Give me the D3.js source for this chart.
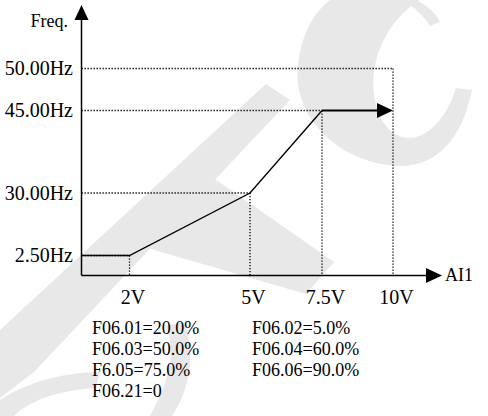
<!DOCTYPE html>
<html>
<head>
<meta charset="utf-8">
<script src="https://cdn.jsdelivr.net/npm/d3@7"></script>
<style>
  body { margin: 0; background: #fff; }
  svg text { font-family: "Liberation Serif", "Times New Roman", serif; fill: #000; }
  .guide { fill: none; stroke: #000; stroke-width: 1.3; stroke-dasharray: 1.3,1.7; }
  .mark { fill: #e8e8e8; stroke: none; }
</style>
</head>
<body>
<div id="chart"></div>
<script>
// data
var voltTicks = [2, 5, 7.5, 10];
var voltLabels = ["2V", "5V", "7.5V", "10V"];
var freqTicks = [2.5, 30, 45, 50];
var freqLabels = ["2.50Hz", "30.00Hz", "45.00Hz", "50.00Hz"];
var curveVolt = [0, 2, 5, 7.5, 10];
var curveFreq = [2.5, 2.5, 30, 45, 45];
var guideVolt = [2, 5, 7.5, 10];
var guideFreq = [2.5, 30, 45, 50];
var paramsLeft = ["F06.01=20.0%", "F06.03=50.0%", "F6.05=75.0%", "F06.21=0"];
var paramsRight = ["F06.02=5.0%", "F06.04=60.0%", "F06.06=90.0%"];

var width = 488, height = 416;

var svg = d3.select("#chart")
  .append("svg")
    .attr("width", width)
    .attr("height", height);

// background watermark (faint)
var wm = [
  "M330,0 L420,0 C372,30 362,92 386,126 C405,150 440,138 456,88 L472,90 C462,140 436,166 400,166 C340,164 292,118 298,66 C301,36 312,14 330,0 Z",
  "M404,0 L416,0 C428,6 436,14 440,22 L430,26 C424,16 414,8 404,0 Z",
  "M0,330 L266,84 L290,100 L34,372 L0,398 Z",
  "M120,240 L205,172 L334,262 L306,294 Z",
  "M0,400 C30,380 70,372 100,372 L96,388 C60,390 30,400 14,416 L0,416 Z",
  "M150,416 C170,380 176,350 166,326 L184,322 C196,352 190,390 172,416 Z"
];
svg.append("g").selectAll("path")
  .data(wm)
  .enter().append("path")
    .attr("class", "mark")
    .attr("d", function(d) { return d; });

// scales (the figure is schematic, so piecewise)
var x = d3.scaleLinear().domain([0, 2, 5, 7.5, 10]).range([81.5, 129.5, 250, 322, 393]);
var y = d3.scaleLinear().domain([0, 2.5, 30, 45, 50]).range([275.5, 255.5, 193, 110.5, 68.5]);

// dotted guides
guideVolt.forEach(function(v, i) {
  var f = guideFreq[i];
  svg.append("line").attr("class", "guide")
    .attr("x1", x(0)).attr("x2", x(v))
    .attr("y1", y(f)).attr("y2", y(f));
  svg.append("line").attr("class", "guide")
    .attr("x1", x(v)).attr("x2", x(v))
    .attr("y1", y(f)).attr("y2", y(0));
});

// axes lines with arrows
svg.append("line")
  .attr("x1", x(0)).attr("y1", y(0))
  .attr("x2", x(0)).attr("y2", 19)
  .attr("stroke", "#000").attr("stroke-width", 1.5);
svg.append("path")
  .attr("d", "M" + x(0) + ",5 L" + (x(0) - 7) + ",20 L" + (x(0) + 7) + ",20 Z")
  .attr("fill", "#000");

svg.append("line")
  .attr("x1", x(0)).attr("y1", y(0))
  .attr("x2", 427).attr("y2", y(0))
  .attr("stroke", "#000").attr("stroke-width", 1.5);
svg.append("path")
  .attr("d", "M442," + y(0) + " L426," + (y(0) - 7.5) + " L426," + (y(0) + 7.5) + " Z")
  .attr("fill", "#000");

// tick labels via d3 axes
var yAxis = svg.append("g")
  .attr("transform", "translate(" + x(0) + ",0)")
  .call(d3.axisLeft(y).tickValues(freqTicks).tickSize(0).tickPadding(8.5)
    .tickFormat(function(d, i) { return freqLabels[i]; }));
yAxis.select(".domain").remove();
yAxis.selectAll("text")
  .attr("font-size", 20)
  .style("font-family", "'Liberation Serif', serif")
  .attr("fill", "#000");

var xAxis = svg.append("g")
  .attr("transform", "translate(0," + y(0) + ")")
  .call(d3.axisBottom(x).tickValues(voltTicks).tickSize(0).tickPadding(14)
    .tickFormat(function(d, i) { return voltLabels[i]; }));
xAxis.select(".domain").remove();
xAxis.selectAll("text")
  .attr("font-size", 20)
  .attr("dx", 3)
  .style("font-family", "'Liberation Serif', serif")
  .attr("fill", "#000");

svg.append("text")
  .attr("x", 68).attr("y", 27)
  .attr("text-anchor", "end")
  .attr("font-size", 18)
  .text("Freq.");

svg.append("text")
  .attr("x", 445).attr("y", 281)
  .attr("font-size", 18)
  .text("AI1");

// the setting curve
var line = d3.line()
  .x(function(d) { return x(d[0]); })
  .y(function(d) { return y(d[1]); });

var pts = curveVolt.map(function(v, i) { return [v, curveFreq[i]]; });

svg.append("path")
  .datum(pts.slice(0, 4))
  .attr("d", line)
  .attr("fill", "none")
  .attr("stroke", "#000")
  .attr("stroke-width", 1.4);

var last = pts.slice(3);
svg.append("line")
  .attr("x1", x(last[0][0])).attr("y1", y(last[0][1]))
  .attr("x2", x(last[1][0]) - 14).attr("y2", y(last[1][1]))
  .attr("stroke", "#000").attr("stroke-width", 2.2);
svg.append("path")
  .attr("d", "M" + x(last[1][0]) + "," + y(last[1][1]) +
    " L" + (x(last[1][0]) - 16) + "," + (y(last[1][1]) - 7.5) +
    " L" + (x(last[1][0]) - 16) + "," + (y(last[1][1]) + 7.5) + " Z")
  .attr("fill", "#000");

// parameter notes
svg.append("g").selectAll("text")
  .data(paramsLeft)
  .enter().append("text")
    .attr("x", 92)
    .attr("y", function(d, i) { return 334 + i * 21; })
    .attr("font-size", 18)
    .text(function(d) { return d; });

svg.append("g").selectAll("text")
  .data(paramsRight)
  .enter().append("text")
    .attr("x", 252)
    .attr("y", function(d, i) { return 334 + i * 21; })
    .attr("font-size", 18)
    .text(function(d) { return d; });
</script>
</body>
</html>
